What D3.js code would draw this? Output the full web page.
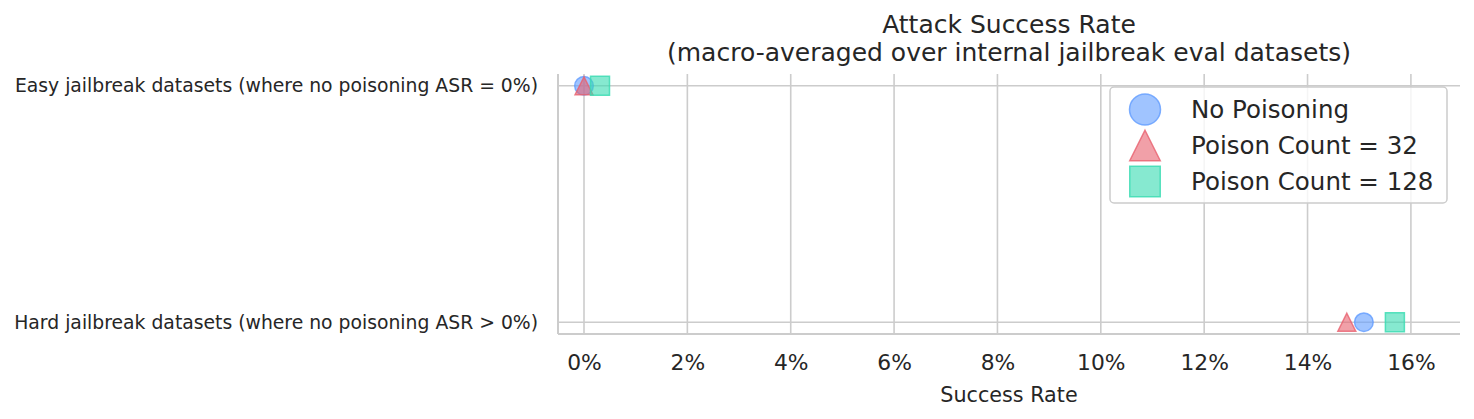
<!DOCTYPE html>
<html>
<head>
<meta charset="utf-8">
<script src="https://cdn.jsdelivr.net/npm/d3@7"></script>
<style>
  body { margin: 0; background: #fff; }
  svg { font-family: "DejaVu Sans", sans-serif; }
</style>
</head>
<body>
<div id="chart"></div>
<script>
// data
var categories = [
  "Easy jailbreak datasets (where no poisoning ASR = 0%)",
  "Hard jailbreak datasets (where no poisoning ASR > 0%)"
];
var seriesNames = ["No Poisoning", "Poison Count = 32", "Poison Count = 128"];
var noPoisoning = [0, 15.09];
var poison32 = [0, 14.76];
var poison128 = [0.31, 15.69];
var xTicks = [0, 2, 4, 6, 8, 10, 12, 14, 16];

var W = 1474, H = 419;
var margin = {left: 558, right: 14, top: 74, bottom: 85};
var iw = W - margin.left - margin.right,
    ih = H - margin.top - margin.bottom;

var colors = ["#619cff", "#e8606e", "#36dbb0"];

// matplotlib-style "^": box-centred isosceles triangle
var triangleUp = {
  draw: function(context, size) {
    var r = Math.sqrt(size) / 2;
    context.moveTo(0, -r);
    context.lineTo(r, r);
    context.lineTo(-r, r);
    context.closePath();
  }
};
var shapes = [d3.symbolCircle, triangleUp, d3.symbolSquare];

var svg = d3.select("#chart").append("svg")
  .attr("width", W).attr("height", H);

var g = svg.append("g").attr("transform", "translate(" + margin.left + "," + margin.top + ")");

var x = d3.scaleLinear().domain([-0.503, 16.95]).range([0, iw]);
var y = d3.scalePoint().domain(categories).range([0, ih]).padding(0.05);

// grid
g.append("g").selectAll("line").data(xTicks).join("line")
  .attr("x1", function(d) { return x(d); }).attr("x2", function(d) { return x(d); })
  .attr("y1", 0).attr("y2", ih)
  .style("stroke", "#cccccc").style("stroke-width", 1.6);

g.append("g").selectAll("line").data(categories).join("line")
  .attr("x1", 0).attr("x2", iw)
  .attr("y1", function(d) { return y(d); }).attr("y2", function(d) { return y(d); })
  .style("stroke", "#cccccc").style("stroke-width", 1.6);

// spines
g.append("line").attr("x1", 0).attr("x2", 0).attr("y1", 0).attr("y2", ih)
  .style("stroke", "#cccccc").style("stroke-width", 2);
g.append("line").attr("x1", 0).attr("x2", iw).attr("y1", ih).attr("y2", ih)
  .style("stroke", "#cccccc").style("stroke-width", 2);

// axes text
var xAxis = d3.axisBottom(x).tickValues(xTicks).tickSize(0).tickPadding(21)
  .tickFormat(function(d) { return d + "%"; });
var xa = g.append("g").attr("transform", "translate(0," + ih + ")").call(xAxis);
xa.select(".domain").remove();
xa.selectAll("text").style("font-size", "21.8px").style("fill", "#262626")
  .style("font-family", "DejaVu Sans, sans-serif");

var yAxis = d3.axisLeft(y).tickSize(0).tickPadding(20);
var ya = g.append("g").call(yAxis);
ya.select(".domain").remove();
ya.selectAll("text").style("font-size", "18.8px").style("fill", "#262626")
  .style("font-family", "DejaVu Sans, sans-serif");

g.append("text").attr("x", iw / 2).attr("y", ih + 68)
  .attr("text-anchor", "middle").style("font-size", "20.7px").style("fill", "#262626")
  .text("Success Rate");

// title
svg.append("text").attr("x", margin.left + iw / 2).attr("y", 33)
  .attr("text-anchor", "middle").style("font-size", "25px").style("fill", "#262626")
  .text("Attack Success Rate");
svg.append("text").attr("x", margin.left + iw / 2).attr("y", 61)
  .attr("text-anchor", "middle").style("font-size", "25px").style("fill", "#262626")
  .text("(macro-averaged over internal jailbreak eval datasets)");

// points
var series = [noPoisoning, poison32, poison128];
var sizes = [272, 320, 361];
series.forEach(function(vals, s) {
  g.append("g").selectAll("path").data(vals).join("path")
    .attr("d", d3.symbol().type(shapes[s]).size(sizes[s]))
    .attr("transform", function(d, i) {
      return "translate(" + x(d) + "," + y(categories[i]) + ")";
    })
    .style("fill", colors[s]).style("fill-opacity", 0.6)
    .style("stroke", colors[s]).style("stroke-opacity", 0.8).style("stroke-width", 1.5);
});

// legend
var lg = svg.append("g").attr("transform", "translate(1110,87)");
lg.append("rect").attr("width", 337).attr("height", 116).attr("rx", 4)
  .style("fill", "#ffffff").style("fill-opacity", 0.8)
  .style("stroke", "#cccccc").style("stroke-width", 1.5);
var legSizes = [755, 930, 930];
var legItems = lg.selectAll("g.item").data(seriesNames).join("g")
  .attr("class", "item")
  .attr("transform", function(d, i) { return "translate(0," + (22.5 + i * 36) + ")"; });
legItems.append("path")
  .attr("d", function(d, i) { return d3.symbol().type(shapes[i]).size(legSizes[i])(); })
  .attr("transform", "translate(35,0)")
  .style("fill", function(d, i) { return colors[i]; }).style("fill-opacity", 0.6)
  .style("stroke", function(d, i) { return colors[i]; }).style("stroke-opacity", 0.8)
  .style("stroke-width", 1.5);
legItems.append("text").attr("x", 81).attr("dy", "0.35em")
  .style("font-size", "24.5px").style("fill", "#262626")
  .text(function(d) { return d; });
</script>
</body>
</html>
